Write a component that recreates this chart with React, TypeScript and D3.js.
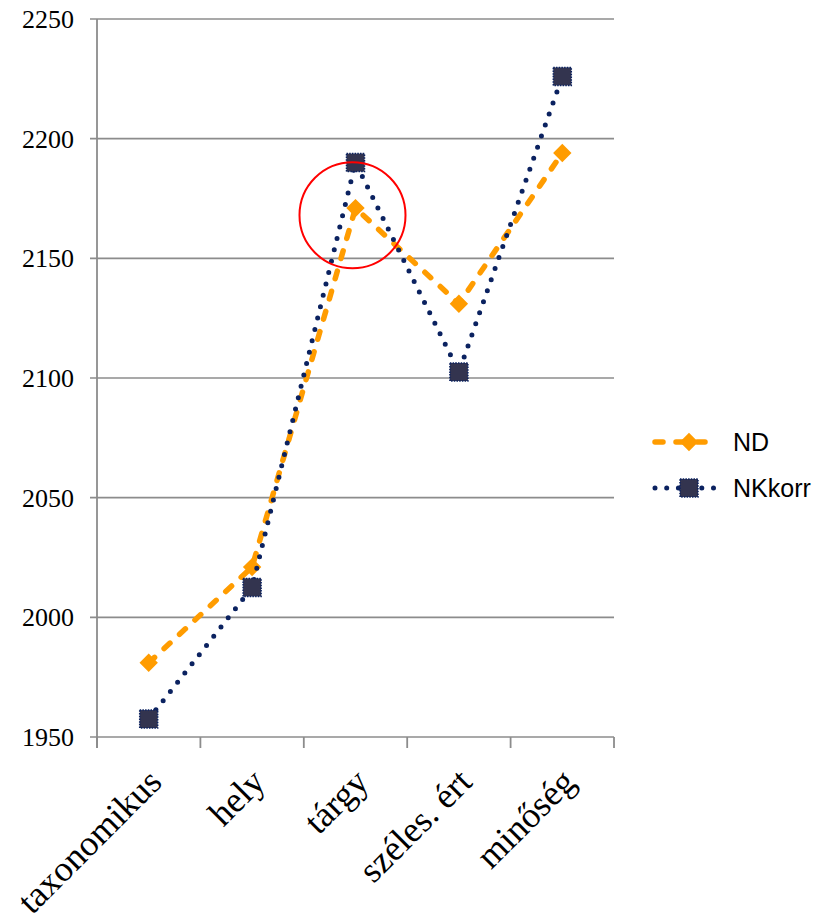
import React from 'react';
import * as d3 from 'd3';

const categories = ['taxonomikus', 'hely', 'tárgy', 'széles. ért', 'minőség'];
const ndValues = [1981, 2021, 2171, 2131, 2194];
const nkkorrValues = [1957.5, 2012.5, 2190, 2102.5, 2226];
const yTicks = [1950, 2000, 2050, 2100, 2150, 2200, 2250];

// annotation circle around the tárgy peak
const circleCategory = 'tárgy';
const circleValue = 2168;

const W = 819;
const H = 917;
const margin = { top: 19, right: 205, bottom: 180, left: 97 };

const ORANGE = '#FF9C00';
const NAVY = '#0B2260';
const MARKER_FILL = '#33344F';
const AXIS = '#8C8C8C';

const App: React.FC = () => {
  const x = d3.scaleBand<string>()
    .domain(categories)
    .range([margin.left, W - margin.right]);
  const cx = (c: string) => (x(c) as number) + x.bandwidth() / 2;

  const y = d3.scaleLinear()
    .domain([1950, 2250])
    .range([H - margin.bottom, margin.top]);

  const line = d3.line<number>()
    .x((_, i) => cx(categories[i]))
    .y(d => y(d));

  const bandEdges = categories.map(c => x(c) as number).concat([W - margin.right]);
  const serif = 'Liberation Serif';
  const sans = 'Liberation Sans';

  const legendX = 655;
  const legendY = [442, 488];

  const diamond = (px: number, py: number, key: string | number) => (
    <rect key={key} x={px - 5.5} y={py - 5.5} width={11} height={11}
      fill={ORANGE} stroke={ORANGE} strokeWidth={2}
      transform={`rotate(45 ${px} ${py})`} />
  );
  const square = (px: number, py: number, key: string | number) => (
    <rect key={key} x={px - 9} y={py - 9} width={18} height={18}
      fill={MARKER_FILL} stroke={NAVY} strokeWidth={1.5} strokeDasharray="1.5 1.2" />
  );

  return (
    <div style={{ position: 'absolute', left: 0, top: 0 }}>
      <svg width={W} height={H} style={{ display: 'block', background: '#fff' }}>
        {/* grid */}
        {yTicks.map(t => (
          <line key={t} x1={margin.left - 7} x2={W - margin.right} y1={y(t)} y2={y(t)}
            stroke={AXIS} strokeWidth={1.6} />
        ))}
        {/* left axis */}
        <line x1={margin.left} x2={margin.left} y1={y(2250)} y2={y(1950) + 11}
          stroke={AXIS} strokeWidth={1.8} />
        {/* bottom ticks */}
        {bandEdges.map((e, i) => (
          <line key={i} x1={e} x2={e} y1={y(1950)} y2={y(1950) + 11}
            stroke={AXIS} strokeWidth={1.8} />
        ))}
        {/* y labels */}
        {yTicks.map(t => (
          <text key={t} x={margin.left - 23} y={y(t)} dy="0.35em" textAnchor="end"
            style={{ fontFamily: serif, fontSize: '26px' }} fill="#000">{t}</text>
        ))}
        {/* x labels */}
        {categories.map(c => {
          const px = cx(c) + 15;
          const py = y(1950) + 47;
          return (
            <text key={c} x={px} y={py} textAnchor="end"
              style={{ fontFamily: serif, fontSize: '36px' }}
              fill="#000" transform={`rotate(-45 ${px} ${py})`}>{c}</text>
          );
        })}

        {/* ND series */}
        <path d={line(ndValues) || ''} fill="none" stroke={ORANGE} strokeWidth={5.5}
          strokeDasharray="8 13" strokeLinecap="round" />
        {ndValues.map((v, i) => diamond(cx(categories[i]), y(v), i))}

        {/* NKkorr series */}
        <path d={line(nkkorrValues) || ''} fill="none" stroke={NAVY} strokeWidth={5}
          strokeDasharray="0 11.7" strokeLinecap="round" />
        {nkkorrValues.map((v, i) => square(cx(categories[i]), y(v), i))}

        {/* annotation */}
        <circle cx={cx(circleCategory) - 3} cy={y(circleValue)} r={53}
          fill="none" stroke="#FF0000" strokeWidth={2} />

        {/* legend */}
        <line x1={legendX} x2={legendX + 63} y1={legendY[0]} y2={legendY[0]}
          stroke={ORANGE} strokeWidth={5.5} strokeDasharray="8 13" strokeLinecap="round" />
        {diamond(legendX + 34, legendY[0], 'ld')}
        <text x={733} y={legendY[0]} dy="0.35em" style={{ fontFamily: sans, fontSize: '25px' }} fill="#000">ND</text>
        <line x1={legendX} x2={legendX + 63} y1={legendY[1]} y2={legendY[1]}
          stroke={NAVY} strokeWidth={5} strokeDasharray="0 11.7" strokeLinecap="round" />
        {square(legendX + 34, legendY[1], 'ls')}
        <text x={733} y={legendY[1]} dy="0.35em" style={{ fontFamily: sans, fontSize: '25px' }} fill="#000">NKkorr</text>
      </svg>
    </div>
  );
};

export default App;
